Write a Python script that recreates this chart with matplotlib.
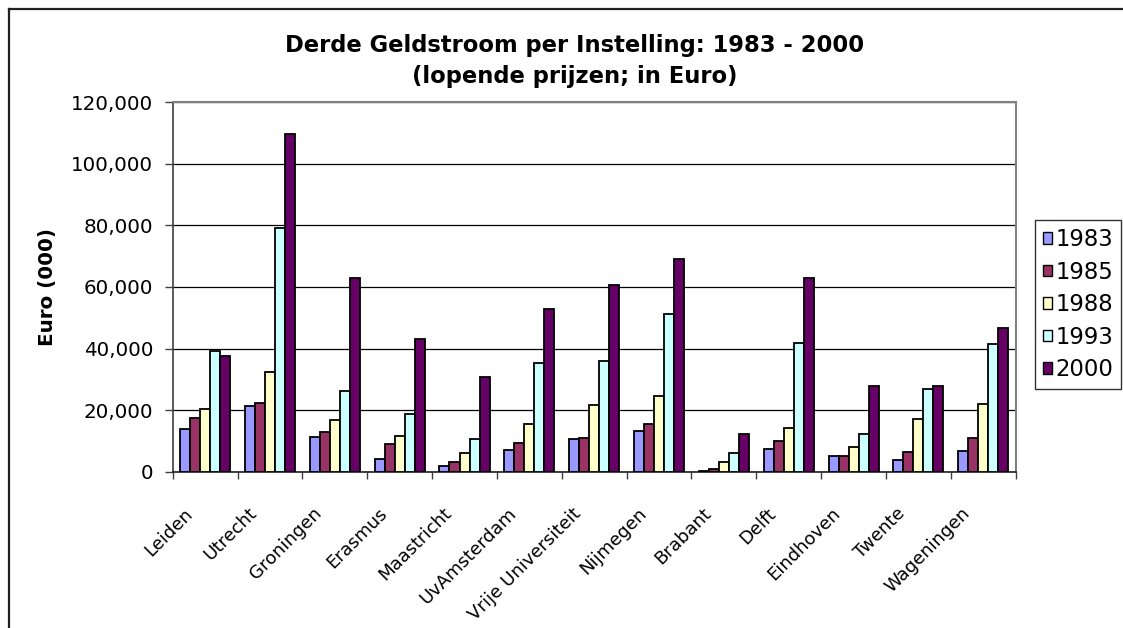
import matplotlib
matplotlib.use("Agg")
import matplotlib.pyplot as plt
import numpy as np
from matplotlib.lines import Line2D
from matplotlib.patches import Patch
import matplotlib.transforms as mtransforms

plt.rcParams['font.family'] = ['DejaVu Sans']

categories = ["Leiden", "Utrecht", "Groningen", "Erasmus", "Maastricht", "UvAmsterdam",
              "Vrije Universiteit", "Nijmegen", "Brabant", "Delft", "Eindhoven", "Twente",
              "Wageningen"]
years = ["1983", "1985", "1988", "1993", "2000"]
v1983 = [13900, 21300, 11200, 4000, 1800, 6900, 10600, 13300, 300, 7500, 5000, 3800, 6600]
v1985 = [17400, 22200, 12800, 8900, 3100, 9400, 11100, 15500, 1000, 10000, 5000, 6500, 11100]
v1988 = [20400, 32500, 16800, 11500, 6200, 15400, 21700, 24700, 3000, 14100, 7900, 17000, 22100]
v1993 = [39100, 79200, 26100, 18800, 10500, 35300, 35900, 51100, 6100, 41900, 12100, 26900, 41600]
v2000 = [37500, 109700, 62800, 43200, 30700, 52700, 60700, 69200, 12200, 62800, 27900, 27900, 46700]
series = [v1983, v1985, v1988, v1993, v2000]
colors = ["#9999FF", "#993366", "#FFFFCC", "#CCFFFF", "#660066"]
yticks = [0, 20000, 40000, 60000, 80000, 100000, 120000]

W, H = 1123, 628
fig = plt.figure(figsize=(W / 100, H / 100), dpi=100)
fig.patch.set_facecolor("white")

left, right, top, bottom = 172.7, 1015.7, 102.3, 471.7
ax = fig.add_axes([left / W, 1 - bottom / H, (right - left) / W, (bottom - top) / H])

n = len(categories)
bw = 10 / 64.8
x = np.arange(n) + 0.5
for j, (vals, c) in enumerate(zip(series, colors)):
    ax.bar(x + (j - 2) * bw, vals, width=bw, color=c, edgecolor="black",
           linewidth=1.3, zorder=3, label=years[j])

ax.set_xlim(0, n)
ax.set_ylim(0, 120000)
ax.set_yticks(yticks)
ax.set_yticklabels([f"{v:,}" for v in yticks], fontsize=14.3)
ax.grid(axis="y", color="black", linewidth=0.9, zorder=0)
ax.set_axisbelow(True)

ax.set_xticks(np.arange(n + 1))
ax.set_xticklabels([])
ax.set_xticks(x, minor=True)
ax.set_xticklabels(categories, minor=True, rotation=45, ha="right", va="top",
                   rotation_mode="anchor", fontsize=13)
ax.tick_params(axis="x", which="minor", length=0, pad=18.5)
ax.tick_params(axis="x", which="major", direction="out", length=5, width=1, color="#404040")
ax.tick_params(axis="y", direction="out", length=6, width=1, color="#404040", pad=8)

offset = mtransforms.ScaledTranslation(-22 / 100, -7 / 100, fig.dpi_scale_trans)
for lbl in ax.get_xticklabels(minor=True):
    lbl.set_transform(lbl.get_transform() + offset)

for s in ["top", "right"]:
    ax.spines[s].set_color("#808080")
    ax.spines[s].set_linewidth(1.5)
ax.spines["left"].set_color("#404040")
ax.spines["left"].set_linewidth(1.2)
ax.spines["bottom"].set_color("#202020")
ax.spines["bottom"].set_linewidth(1.2)

fig.text(575 / W, 1 - 61 / H, "Derde Geldstroom per Instelling: 1983 - 2000\n(lopende prijzen; in Euro)",
         ha="center", va="center", fontsize=16.3, fontweight="bold", linespacing=1.49)
fig.text(48 / W, 1 - 287 / H, "Euro (000)", rotation=90, ha="center", va="center",
         fontsize=14.3, fontweight="bold")

handles = [Patch(facecolor=c, edgecolor="black", linewidth=1.0) for c in colors]
leg = fig.legend(handles, years, loc="upper left",
                 bbox_to_anchor=(1035 / W, 1 - 220 / H), fontsize=16.4,
                 frameon=True, fancybox=False, edgecolor="black",
                 handlelength=0.4, handleheight=0.4, handletextpad=0.15,
                 labelspacing=0.42, borderpad=0.35, borderaxespad=0)
leg.get_frame().set_linewidth(1.0)

# outer chart border (only top and left visible)
fig.add_artist(Line2D([8.5 / W, 1], [1 - 8.5 / H, 1 - 8.5 / H], transform=fig.transFigure,
                      color="#202020", linewidth=1.6))
fig.add_artist(Line2D([8.5 / W, 8.5 / W], [0, 1 - 8.5 / H], transform=fig.transFigure,
                      color="#202020", linewidth=1.6))

fig.savefig("out.png", dpi=100)
